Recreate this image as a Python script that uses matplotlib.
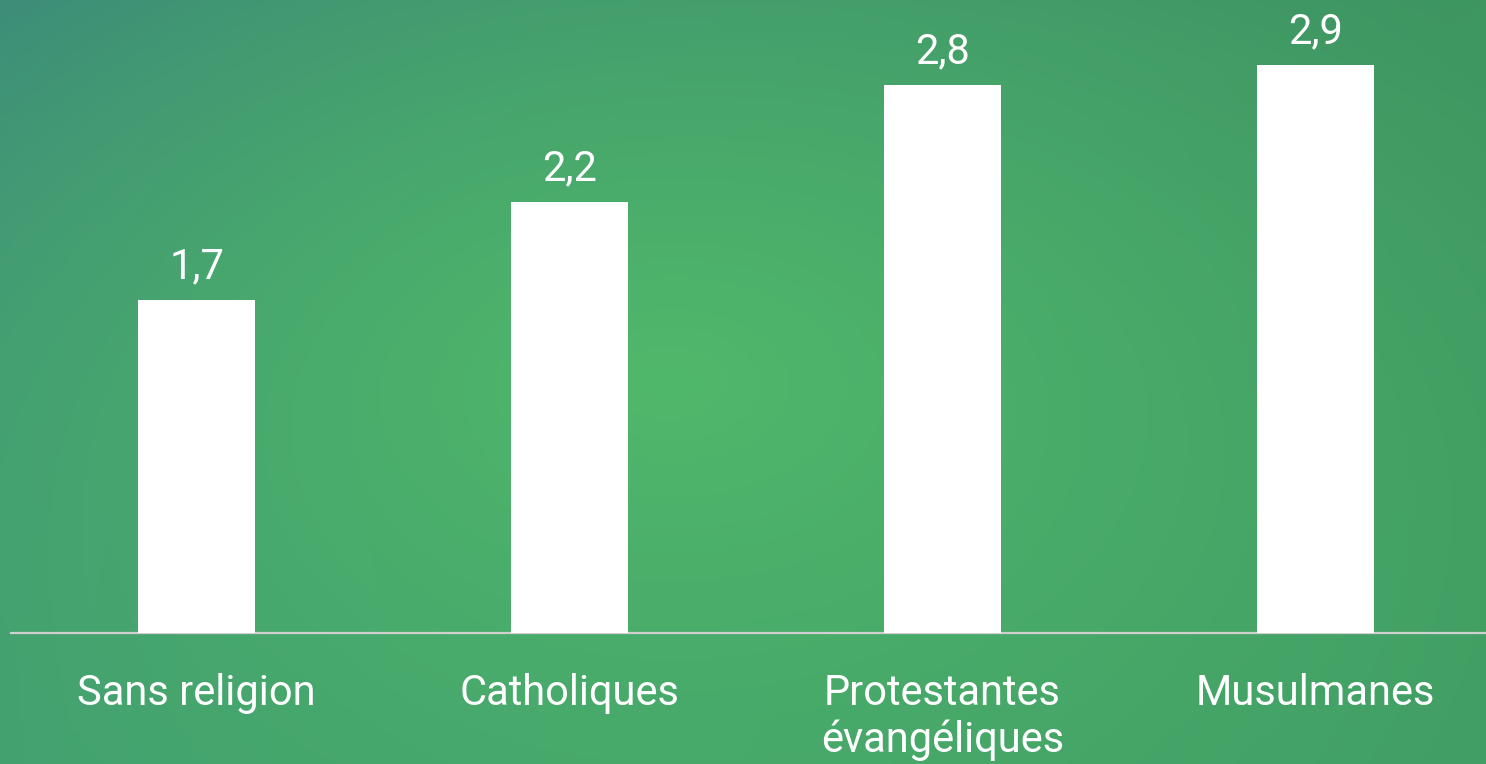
import numpy as np
import matplotlib
matplotlib.use("Agg")
import matplotlib.pyplot as plt

categories = ["Sans religion", "Catholiques", "Protestantes\névangéliques", "Musulmanes"]
values = [1.7, 2.2, 2.8, 2.9]
value_labels = ["1,7", "2,2", "2,8", "2,9"]

W, H, DPI = 1486, 764, 100
fig = plt.figure(figsize=(W / DPI, H / DPI), dpi=DPI)

# background gradient
bg = fig.add_axes([0, 0, 1, 1])
bg.set_axis_off()
ny, nx = 200, 390
yy, xx = np.mgrid[0:1:ny * 1j, 0:1:nx * 1j]
tl = np.array([60, 138, 122]) / 255
tr = np.array([62, 150, 96]) / 255
bl = np.array([66, 160, 112]) / 255
br = np.array([66, 160, 100]) / 255
ctr = np.array([80, 184, 106]) / 255
base = (tl * ((1 - xx) * (1 - yy))[..., None] + tr * (xx * (1 - yy))[..., None]
        + bl * ((1 - xx) * yy)[..., None] + br * (xx * yy)[..., None])
r = np.sqrt(((xx - 0.45) / 0.65) ** 2 + ((yy - 0.5) / 0.8) ** 2)
w = np.clip(1 - r, 0, 1) ** 1.0
img = base * (1 - w[..., None]) + ctr * w[..., None]
bg.imshow(img, extent=[0, 1, 0, 1], aspect="auto", origin="upper")
bg.set_xlim(0, 1)
bg.set_ylim(0, 1)

font = "Roboto"
ax = fig.add_axes([11 / W, (H - 633) / H, 1 - 11 / W, 633 / H])
ax.patch.set_alpha(0)
x = np.arange(len(categories))
ax.bar(x, values, width=117 / 373, color="white", zorder=3)
ax.set_xlim((11 - 196.5) / 373, (1486 - 196.5) / 373)
ax.set_ylim(0, 633 / 195.8)
for xi, v, lab in zip(x, values, value_labels):
    ax.annotate(lab, (xi, v), xytext=(0, 9), textcoords="offset points",
                ha="center", va="bottom", color="white", fontsize=30, family=font)
for s in ["top", "right", "left"]:
    ax.spines[s].set_visible(False)
ax.spines["bottom"].set_color("#d0d0d0")
ax.spines["bottom"].set_linewidth(1.6)
ax.set_yticks([])
ax.set_xticks(x)
ax.set_xticklabels(categories, color="white", fontsize=30, family=font, linespacing=1.15,
                   va="top")
ax.tick_params(axis="x", length=0, pad=29)

fig.savefig("out.png", dpi=DPI)
